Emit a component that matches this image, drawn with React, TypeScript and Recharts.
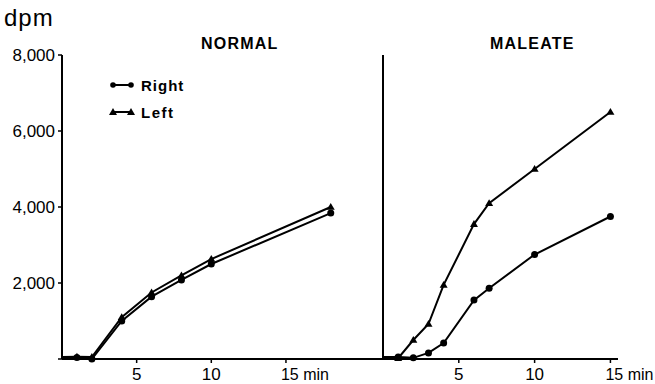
import React from 'react';
import { LineChart, Line, XAxis, YAxis } from 'recharts';

// time points (min) and counts (dpm)
const normalTimes = [0, 1, 2, 4, 6, 8, 10, 18];
const normalRight = [0, 40, 0, 1000, 1640, 2080, 2500, 3840];
const normalLeft = [50, 60, 50, 1100, 1750, 2200, 2630, 4000];

const maleateTimes = [0, 1, 2, 3, 4, 6, 7, 10, 15];
const maleateRight = [50, 50, 30, 160, 420, 1550, 1860, 2750, 3750];
const maleateLeft = [0, 20, 500, 920, 1950, 3550, 4100, 5000, 6500];

const yTicks = [0, 2000, 4000, 6000, 8000];
const xTicks = [5, 10, 15];

const FONT = '"Liberation Sans", Arial, sans-serif';

const toRows = (times: number[], right: number[], left: number[]) =>
  times.map((t, i) => ({ t, right: right[i], left: left[i] }));

const normalData = toRows(normalTimes, normalRight, normalLeft);
const maleateData = toRows(maleateTimes, maleateRight, maleateLeft);

// circle marker for the right kidney
const RoundDot = (props: any) => {
  const { cx, cy, payload } = props;
  if (payload.t === 0) return <g />;
  return <circle cx={cx} cy={cy} r={3.5} fill="#000" />;
};

// triangle marker for the left kidney
const TriDot = (props: any) => {
  const { cx, cy, payload } = props;
  if (payload.t === 0) return <g />;
  const s = 4;
  return (
    <polygon
      points={`${cx},${cy - s} ${cx - s},${cy + s * 0.7} ${cx + s},${cy + s * 0.7}`}
      fill="#000"
    />
  );
};

const XTick = ({ x, y, payload }: any) => {
  if (payload.value === 15) {
    return (
      <text x={x - 5} y={y} dy={15} textAnchor="start" fontFamily={FONT} fontSize={16} fill="#000">
        15 min
      </text>
    );
  }
  return (
    <text x={x} y={y} dy={15} textAnchor="middle" fontFamily={FONT} fontSize={17} fill="#000">
      {payload.value}
    </text>
  );
};

const YTick = ({ x, y, payload }: any) => {
  if (payload.value === 0) return <g />;
  return (
    <text x={x} y={y} dy={6} textAnchor="end" fontFamily={FONT} fontSize={17} fill="#000">
      {payload.value.toLocaleString('en-US')}
    </text>
  );
};

const axisLine = { stroke: '#000', strokeWidth: 2 };
const tickLine = { stroke: '#000', strokeWidth: 1.5 };

const LegendBox = () => (
  <svg width={120} height={50} style={{ position: 'absolute', left: 105, top: 72 }}>
    <line x1={8} y1={13} x2={26} y2={13} stroke="#000" strokeWidth={2} />
    <circle cx={8} cy={13} r={2.8} fill="#000" />
    <circle cx={26} cy={13} r={2.8} fill="#000" />
    <text x={36} y={19} fontFamily={FONT} fontSize={15} fontWeight="bold" letterSpacing={1}>Right</text>
    <line x1={8} y1={40} x2={26} y2={40} stroke="#000" strokeWidth={2} />
    <polygon points="8,36 4,43 12,43" fill="#000" />
    <polygon points="26,36 22,43 30,43" fill="#000" />
    <text x={36} y={46} fontFamily={FONT} fontSize={15} fontWeight="bold" letterSpacing={1.5}>Left</text>
  </svg>
);

const titleStyle: React.CSSProperties = {
  position: 'absolute',
  top: 35,
  fontFamily: FONT,
  fontSize: 16,
  fontWeight: 'bold',
  letterSpacing: 1.2,
  color: '#000',
};

export default function App() {
  return (
    <div style={{ position: 'absolute', left: 0, top: 0, width: 655, height: 384, background: '#fff' }}>
      <div style={{ position: 'absolute', left: 0, top: 0 }}>
        <LineChart width={400} height={384} data={normalData} margin={{ top: 55, right: 17, bottom: 0, left: 0 }}>
          <XAxis
            type="number"
            dataKey="t"
            domain={[0, 21.5]}
            ticks={xTicks}
            tick={<XTick />}
            tickSize={4}
            tickMargin={2}
            tickLine={tickLine}
            axisLine={axisLine}
            height={25}
          />
          <YAxis
            type="number"
            domain={[0, 8000]}
            ticks={yTicks}
            tick={<YTick />}
            tickSize={4}
            tickMargin={3}
            tickLine={tickLine}
            axisLine={axisLine}
            width={62}
          />
          <Line dataKey="right" stroke="#000" strokeWidth={2} dot={<RoundDot />} isAnimationActive={false} />
          <Line dataKey="left" stroke="#000" strokeWidth={2} dot={<TriDot />} isAnimationActive={false} />
        </LineChart>
      </div>
      <div style={{ position: 'absolute', left: 340, top: 0 }}>
        <LineChart width={315} height={384} data={maleateData} margin={{ top: 55, right: 37, bottom: 0, left: 0 }}>
          <XAxis
            type="number"
            dataKey="t"
            domain={[0, 15.5]}
            ticks={xTicks}
            tick={<XTick />}
            tickSize={4}
            tickMargin={2}
            tickLine={tickLine}
            axisLine={axisLine}
            height={25}
          />
          <YAxis
            type="number"
            domain={[0, 8000]}
            ticks={yTicks}
            tick={false}
            tickSize={4}
            tickLine={tickLine}
            axisLine={axisLine}
            width={43}
          />
          <Line dataKey="right" stroke="#000" strokeWidth={2} dot={<RoundDot />} isAnimationActive={false} />
          <Line dataKey="left" stroke="#000" strokeWidth={2} dot={<TriDot />} isAnimationActive={false} />
        </LineChart>
      </div>
      <div style={{ position: 'absolute', left: 4, top: 4, fontFamily: FONT, fontSize: 24, letterSpacing: 1 }}>dpm</div>
      <div style={{ ...titleStyle, left: 201 }}>NORMAL</div>
      <div style={{ ...titleStyle, left: 490 }}>MALEATE</div>
      <LegendBox />
    </div>
  );
}
